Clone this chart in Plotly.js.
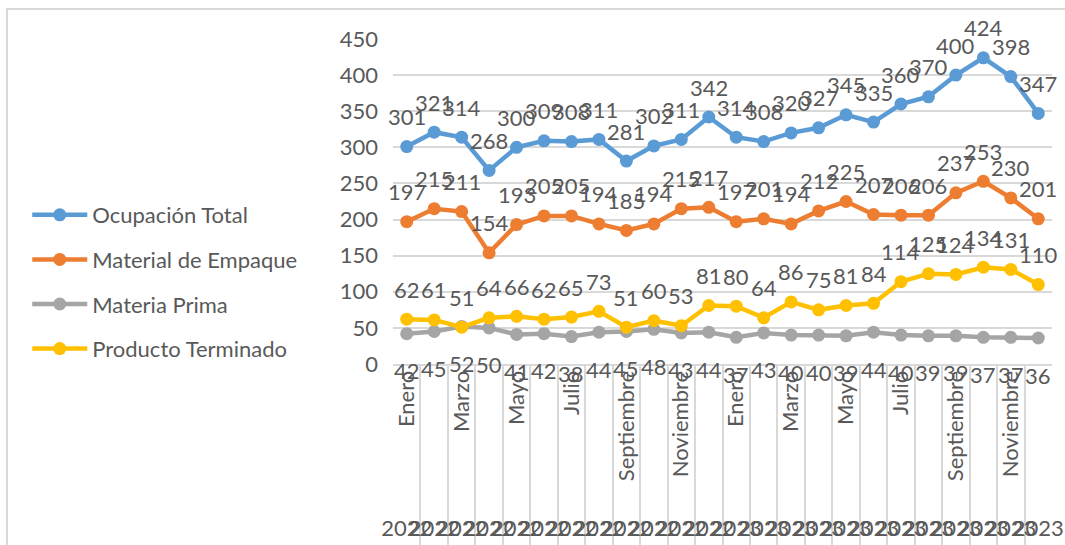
<!DOCTYPE html>
<html>
<head>
<meta charset="utf-8">
<script src="https://cdn.plot.ly/plotly-3.0.1.min.js"></script>
<style>
  html, body { margin: 0; padding: 0; background: #fff; }
  #wrap { position: relative; width: 1065px; height: 545px; overflow: hidden; }
  #chart { width: 1065px; height: 545px; }
  #frame { position: absolute; left: 6px; top: 8px; width: 2000px; height: 2000px;
           border-left: 2px solid #d9d9d9; border-top: 2px solid #d9d9d9; pointer-events: none; }
</style>
</head>
<body>
<div id="wrap"><div id="chart"></div><div id="frame"></div></div>
<script>
const years = ["2022","2022","2022","2022","2022","2022","2022","2022","2022","2022","2022","2022",
               "2023","2023","2023","2023","2023","2023","2023","2023","2023","2023","2023","2023"];
const months = ["Enero","Febrero","Marzo","Abril","Mayo","Junio","Julio","Agosto","Septiembre","Octubre","Noviembre","Diciembre",
                "Enero","Febrero","Marzo","Abril","Mayo","Junio","Julio","Agosto","Septiembre","Octubre","Noviembre","Diciembre"];
const ocupacionTotal   = [301,321,314,268,300,309,308,311,281,302,311,342,314,308,320,327,345,335,360,370,400,424,398,347];
const materialEmpaque  = [197,215,211,154,193,205,205,194,185,194,215,217,197,201,194,212,225,207,206,206,237,253,230,201];
const materiaPrima     = [42,45,52,50,41,42,38,44,45,48,43,44,37,43,40,40,39,44,40,39,39,37,37,36];
const productoTerminado= [62,61,51,64,66,62,65,73,51,60,53,81,80,64,86,75,81,84,114,125,124,134,131,110];
const yTicks = [0,50,100,150,200,250,300,350,400,450];

const idx = months.map((_, i) => i);
const monthText = months.map((m, i) => (i % 2 === 0 ? m : ""));
const bounds = idx.concat([months.length]).map(i => i - 0.5);

const FONT = "Lato, 'Open Sans', sans-serif";
const TXT = "#595959";
const FS = 22;

const series = [
  {name: "Ocupación Total", y: ocupacionTotal, color: "#5B9BD5", shift: 30},
  {name: "Material de Empaque", y: materialEmpaque, color: "#ED7D31", shift: 30},
  {name: "Materia Prima", y: materiaPrima, color: "#A5A5A5", shift: -37},
  {name: "Producto Terminado", y: productoTerminado, color: "#FFC000", shift: 30}
];

const traces = series.map((s, k) => ({
  type: "scatter", mode: "lines+markers", name: s.name,
  x: idx, y: s.y, legendgroup: "g" + k,
  line: {color: s.color, width: 4.5},
  marker: {color: s.color, size: 13},
  hoverinfo: "skip"
}));
// invisible helper traces so overlay axes are active
traces.push({type: "scatter", mode: "markers", x: idx, y: ocupacionTotal, xaxis: "x2", yaxis: "y",
             marker: {opacity: 0}, showlegend: false, hoverinfo: "skip"});
traces.push({type: "scatter", mode: "markers", x: idx, y: ocupacionTotal, xaxis: "x3", yaxis: "y",
             marker: {opacity: 0}, showlegend: false, hoverinfo: "skip"});

const annotations = [];
series.forEach(s => {
  s.y.forEach((v, i) => {
    annotations.push({x: idx[i], y: v, xref: "x", yref: "y", text: String(v), showarrow: false,
      yshift: s.shift, font: {family: FONT, size: FS, color: TXT}});
  });
});

const H = 545, T = 39, B = 32;
const areaH = H - T - B;
const plotBottomPx = 364;
const d = (H - B - plotBottomPx) / areaH;

const layout = {
  width: 1065, height: 545,
  margin: {l: 393, r: 13, t: T, b: B},
  paper_bgcolor: "#fff", plot_bgcolor: "#fff",
  font: {family: FONT, size: FS, color: TXT},
  showlegend: true,
  legend: {x: -0.555, xanchor: "left", y: (H - B - 282) / areaH, yanchor: "middle",
           font: {family: FONT, size: FS, color: TXT}, itemwidth: 55, tracegroupgap: 13,
           bgcolor: "rgba(0,0,0,0)"},
  xaxis: {range: [-0.5, 23.5], tickmode: "array", tickvals: idx, ticktext: monthText,
          tickangle: -90, showgrid: false, zeroline: false, showline: true, linecolor: "#d9d9d9", linewidth: 2,
          ticks: "", tickfont: {family: FONT, size: FS, color: TXT}, ticklabelstandoff: -4, fixedrange: true},
  xaxis2: {overlaying: "x", anchor: "free", position: d, side: "top", range: [-0.5, 23.5],
           tickmode: "array", tickvals: bounds, showticklabels: false, ticks: "inside", ticklen: 181,
           tickcolor: "#d9d9d9", tickwidth: 2, showgrid: false, zeroline: false, showline: false},
  xaxis3: {overlaying: "x", anchor: "free", position: 0, side: "bottom", range: [-0.5, 23.5],
           tickmode: "array", tickvals: idx, ticktext: years, tickangle: 0, ticks: "",
           showgrid: false, zeroline: false, showline: false,
           tickfont: {family: FONT, size: FS, color: TXT}},
  yaxis: {domain: [d, 1], range: [0, 450], tickmode: "array", tickvals: yTicks,
          showgrid: true, gridcolor: "#d9d9d9", gridwidth: 2, zeroline: false, showline: false,
          ticks: "", ticklabelstandoff: 14, tickfont: {family: FONT, size: FS, color: TXT}},
  annotations: annotations
};

Plotly.newPlot("chart", traces, layout, {displayModeBar: false, staticPlot: true});
</script>
</body>
</html>
